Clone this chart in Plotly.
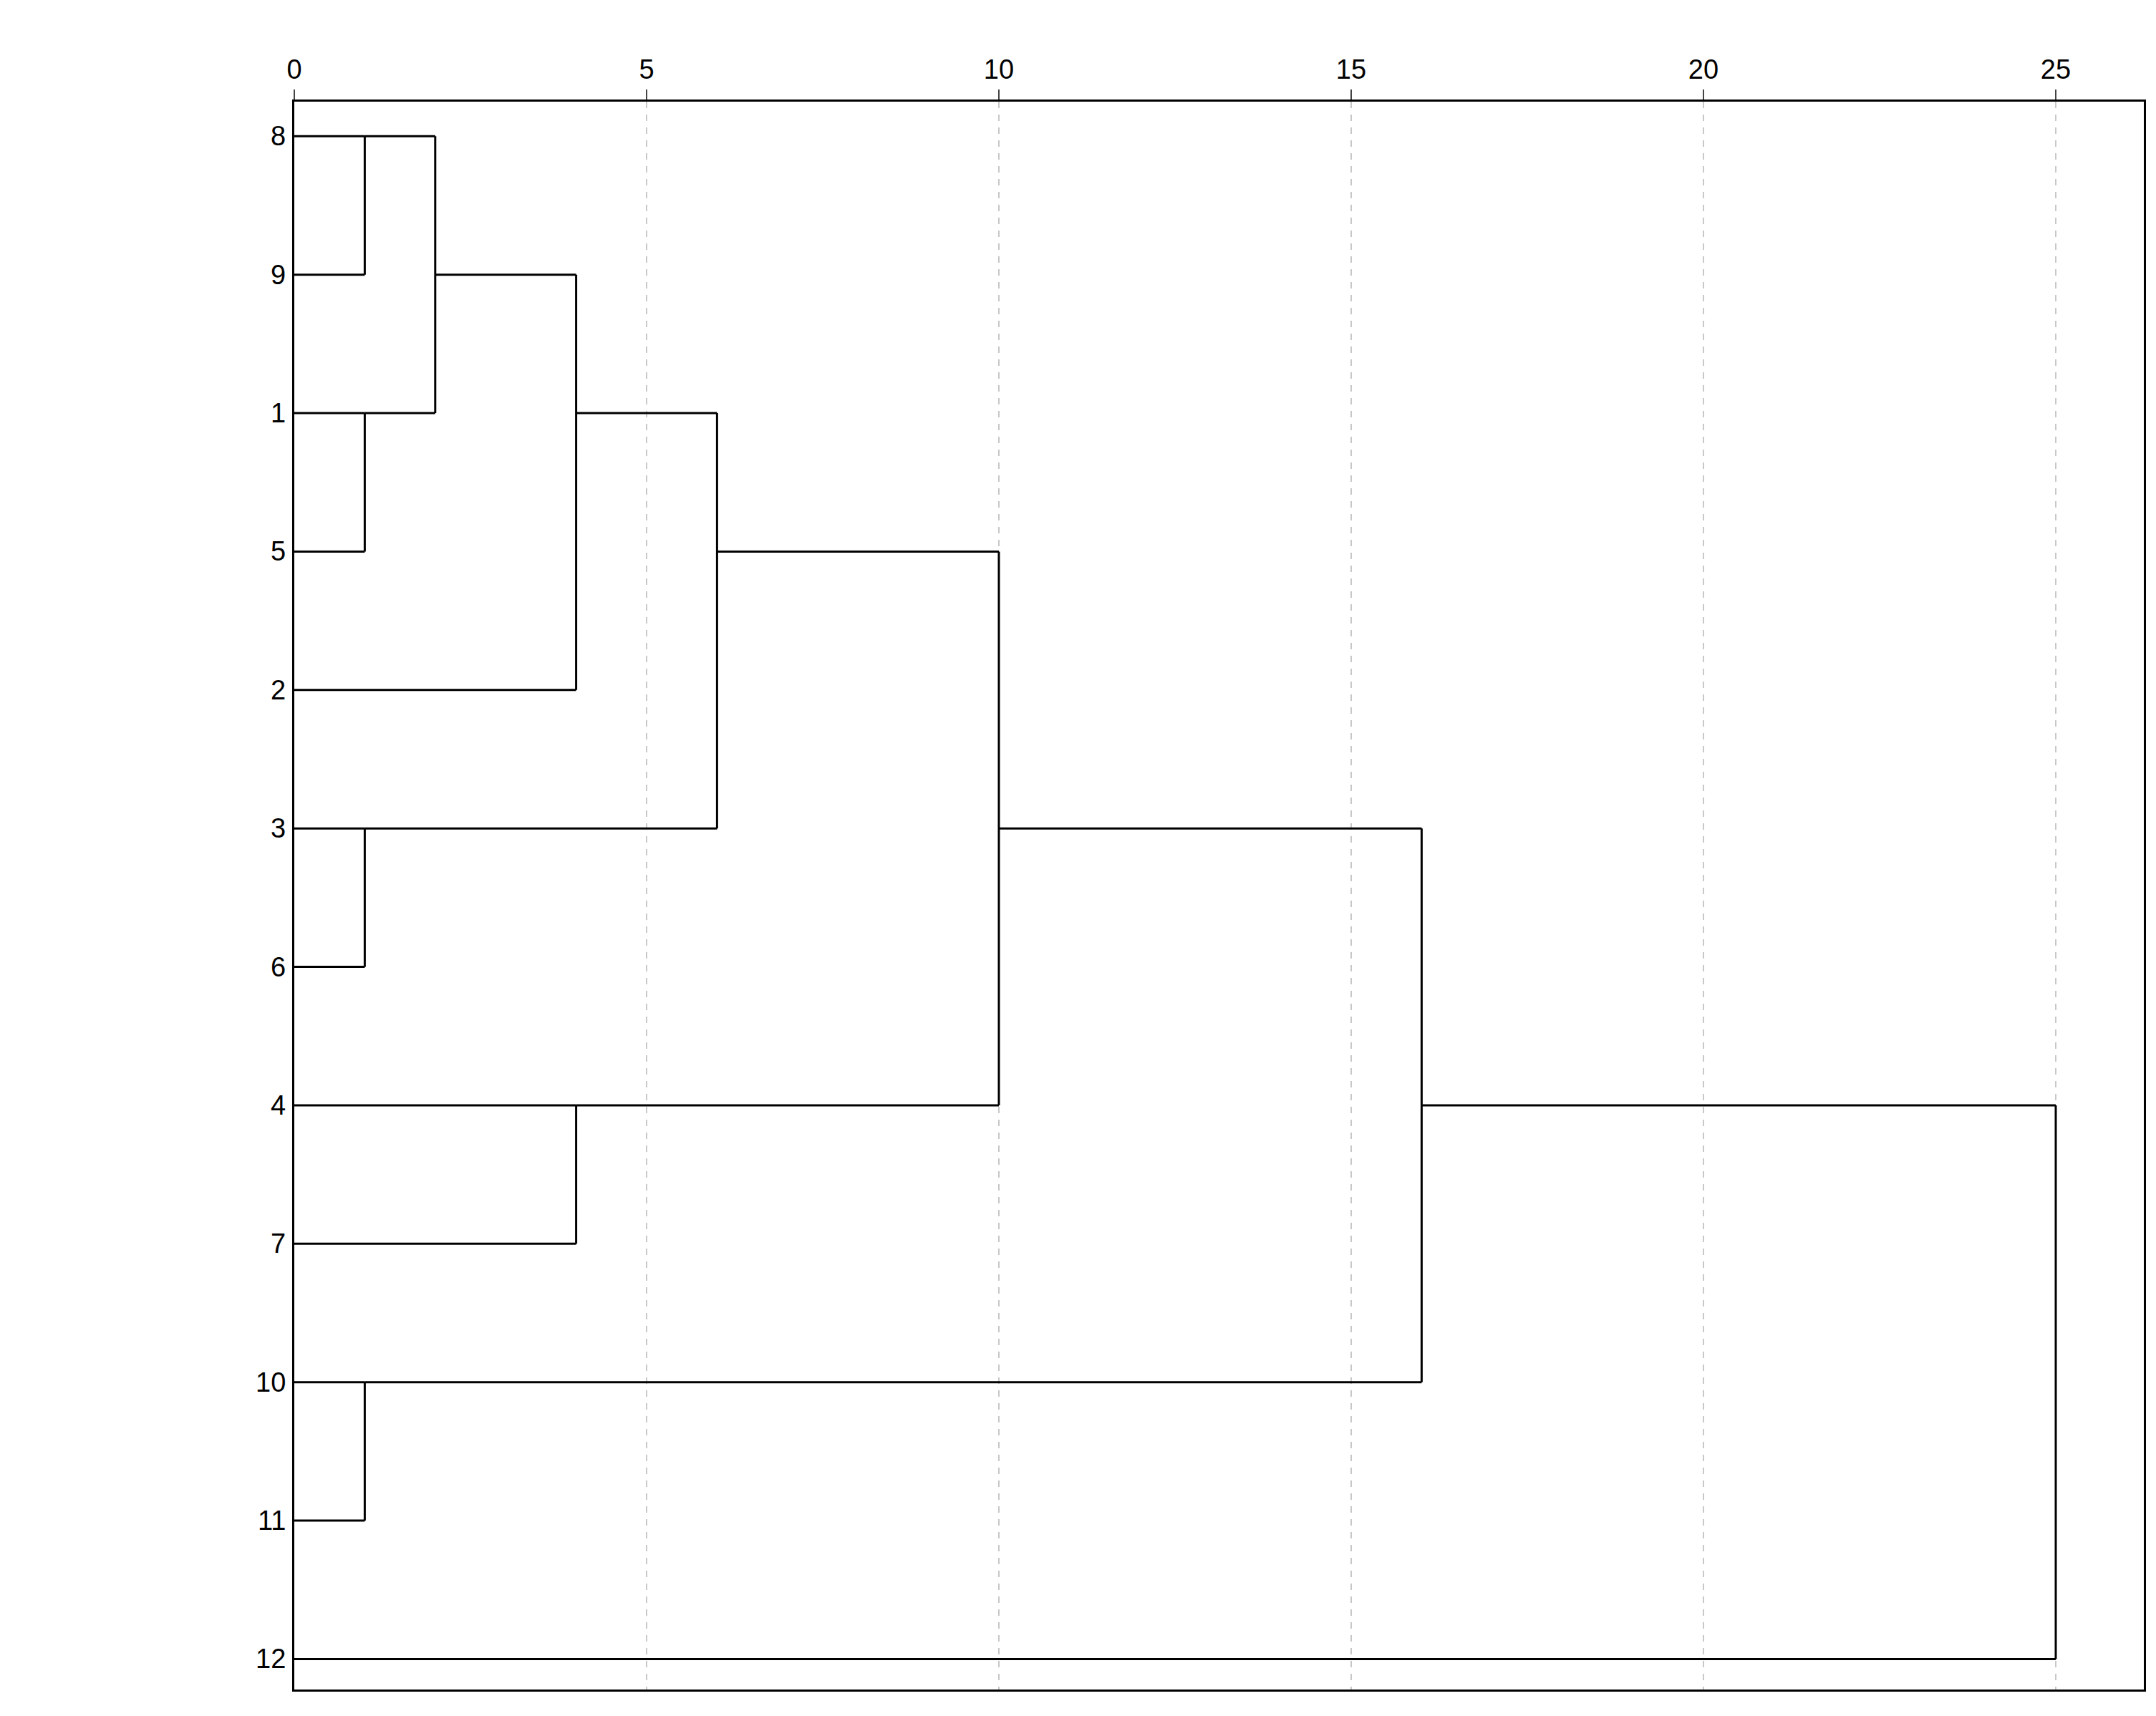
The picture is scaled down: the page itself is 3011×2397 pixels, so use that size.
import plotly.graph_objects as go

labels = ["TDS", "EC", "Ca", "Cl", "Mg", "Na", "SO4", "K", "HCO3", "U238", "U234", "pH"]
case_ids = [8, 9, 1, 5, 2, 3, 6, 4, 7, 10, 11, 12]
# merges: (child_a, child_b, distance); children are leaf rows (1-based) or "n<k>" node refs
merge_a = [1, 3, "n0", "n2", 6, "n3", 8, "n5", 10, "n7", "n9"]
merge_b = [2, 4, "n1", 5, 7, "n4", 9, "n6", 11, "n8", 12]
merge_h = [1, 1, 2, 4, 1, 6, 4, 10, 1, 16, 25]
tick_vals = [0, 5, 10, 15, 20, 25]

pos = {}   # node -> (y, x)
def get(c):
    if isinstance(c, str):
        return pos[c]
    return (c, 0)

xs, ys = [], []
for i, (a, b, h) in enumerate(zip(merge_a, merge_b, merge_h)):
    ya, xa = get(a)
    yb, xb = get(b)
    xs += [xa, h, None, xb, h, None, h, h, None]
    ys += [ya, ya, None, yb, yb, None, ya, yb, None]
    pos[f"n{i}"] = ((ya + yb) // 2, h)

fig = go.Figure()
fig.add_trace(go.Scatter(x=xs, y=ys, mode="lines", line=dict(color="black", width=3),
                         hoverinfo="skip", showlegend=False))

font = dict(family="Liberation Sans, Arial", size=38, color="black")
for i, (lab, cid) in enumerate(zip(labels, case_ids)):
    fig.add_annotation(x=-0.298, xref="paper", y=i + 1, yref="y", text=lab, showarrow=False,
                       xanchor="left", font=font)
    fig.add_annotation(x=-0.004, xref="paper", y=i + 1, yref="y", text=str(cid), showarrow=False,
                       xanchor="right", font=font)
fig.add_annotation(x=-0.335, xref="paper", y=6.5, yref="y", text="Y", showarrow=False,
                   textangle=-90, font=font)

fig.update_layout(
    width=3011, height=2397, plot_bgcolor="white", paper_bgcolor="white",
    margin=dict(l=403, r=25, t=134, b=45), font=font,
    xaxis=dict(range=[0, 26.25], side="top", tickvals=tick_vals, showgrid=True,
               gridcolor="#c8c8c8", griddash="dash", gridwidth=2, zeroline=False,
               showline=True, linecolor="black", linewidth=3, mirror=True,
               ticks="outside", ticklen=14, tickwidth=2, tickfont=font),
    yaxis=dict(range=[12.22, 0.75], showticklabels=False, showgrid=False, zeroline=False,
               showline=True, linecolor="black", linewidth=3, mirror=True),
)
fig.write_html("out.html")
